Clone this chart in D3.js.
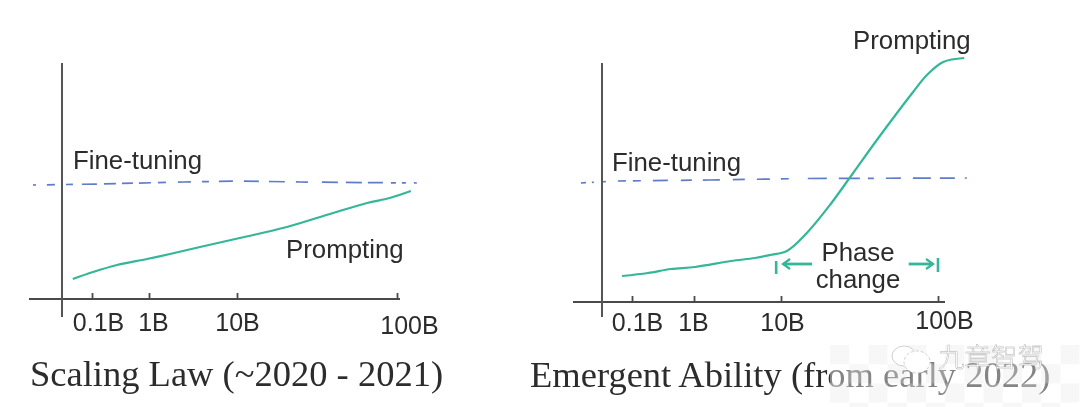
<!DOCTYPE html>
<html><head><meta charset="utf-8">
<script src="https://cdn.jsdelivr.net/npm/d3@7"></script>
<style>
html,body{margin:0;padding:0;background:#fff;overflow:hidden}
svg{display:block;filter:blur(0.6px)}
text{fill:#2c2c2c}
</style></head><body>
<svg id="c" width="1080" height="407"></svg>
<script>
const tickValues = [0.1, 1, 10, 100];
const tickLabels = ["0.1B", "1B", "10B", "100B"];

const leftTitle = "Scaling Law (~2020 - 2021)";
const rightTitle = "Emergent Ability (from early 2022)";

const leftPromptSize = [0.046, 0.104, 0.275, 0.92, 1.73, 3.8, 10.4, 20.5, 39.8, 65, 90, 122];
const leftPromptAbility = [20, 27, 34, 40, 45, 52, 61, 72, 86, 96, 101, 108];
const leftFineSize = [0.0092, 0.138, 2.43, 10.4, 24.8, 133];
const leftFineAbility = [114, 115, 117, 118, 117, 116];

const rightPromptSize = [0.069, 0.181, 0.426, 1.03, 2.66, 5.0, 7.48, 10.9, 14.6, 20.5, 28.8, 40.8, 54.8, 69.4, 85, 108, 147];
const rightPromptAbility = [26, 29, 33, 35, 41, 44, 47, 51, 69, 97, 129, 162, 189, 210, 227, 240, 244];
const rightFineSize = [0.015, 0.055, 1.5, 14, 155];
const rightFineAbility = [119, 121, 122, 123.5, 124];

const phaseBars = [8.8, 100];
const phaseArrowLeft = [15.8, 10.3];
const phaseArrowRight = [65, 93];
const phaseArrowAbility = [38, 38];

const svg = d3.select("#c");
const TEAL = "#35b698", BLUE = "#5f7cc6", AX = "#4a4a4a";

function panel(o){
  const g = svg.append("g");
  const x = d3.scaleLog().domain(tickValues).range(o.ticksPx);
  const y = d3.scaleLinear().domain([0, 260]).range([o.axisY, o.axisY - 260]);
  const line = d3.line().x(d => x(d[0])).y(d => y(d[1]));

  const ax = g.append("g").attr("transform", `translate(0,${o.axisY})`)
    .call(d3.axisBottom(x).tickValues(tickValues).tickFormat((d,i)=>tickLabels[i]).tickSize(-6).tickSizeOuter(0));
  ax.select(".domain").remove();
  ax.selectAll(".tick line").attr("stroke", AX).attr("stroke-width", 1.8);
  ax.selectAll(".tick text").attr("font-family", "Liberation Sans").attr("font-size", 25)
    .style("fill","#2c2c2c")
    .attr("dx", (d,i)=>o.labelDx[i]).attr("y", (d,i)=>o.labelBase[i]-o.axisY).attr("dy", 0);
  g.append("line").attr("x1", o.xAxis[0]).attr("x2", o.xAxis[1]).attr("y1", o.axisY).attr("y2", o.axisY)
    .attr("stroke", AX).attr("stroke-width", 2);
  g.append("line").attr("x1", o.yAxisX).attr("x2", o.yAxisX).attr("y1", 63).attr("y2", 317)
    .attr("stroke", "#555").attr("stroke-width", 2);

  g.append("path").datum(d3.zip(o.fineX, o.fineY)).attr("d", line).attr("fill", "none")
    .attr("stroke", BLUE).attr("stroke-width", 1.7).attr("stroke-dasharray", o.dash);
  g.append("path").datum(d3.zip(o.promptX, o.promptY)).attr("d", line.curve(d3.curveCatmullRom.alpha(0.5))).attr("fill", "none")
    .attr("stroke", TEAL).attr("stroke-width", 2.2).attr("stroke-linejoin","round");

  const lab = (t, px, py) => g.append("text").text(t).attr("x", px).attr("y", py)
    .attr("font-family", "Liberation Sans").attr("font-size", 25.8);
  lab("Fine-tuning", o.fineLabel[0], o.fineLabel[1]);
  lab("Prompting", o.promptLabel[0], o.promptLabel[1]);
  g.append("text").text(o.title).attr("x", o.titlePos[0]).attr("y", o.titlePos[1])
    .attr("font-family", "Liberation Serif").attr("font-size", o.titleSize);
  return {g, x, y};
}

panel({
  ticksPx:[92,149,237,397], axisY:299, xAxis:[29,400], yAxisX:62,
  labelDx:[6,4,0,12], labelBase:[331,331,331,334],
  promptX:leftPromptSize, promptY:leftPromptAbility,
  fineX:leftFineSize, fineY:leftFineAbility,
  dash:"3,11,8,11,7,9,15,7,12,6,11,6,12,7,8,12,13,11,7,10,14,11,15,10,16,11,12,14,16,8,16,6,15,8,5,6,4,8,4,300",
  fineLabel:[73,169], promptLabel:[286,258],
  title:leftTitle, titlePos:[30,386], titleSize:36.5
});

const R = panel({
  ticksPx:[632,694,781,938], axisY:302, xAxis:[573,945], yAxisX:602,
  labelDx:[5,-1,1,6], labelBase:[331,331,331,329],
  promptX:rightPromptSize, promptY:rightPromptAbility,
  fineX:rightFineSize, fineY:rightFineAbility,
  dash:"5,6,2,9,3,12,8,7,8,12,15,13,11,11,17,13,12,12,13,11,8,19,19,12,21,8,6,12,15,12,18,9,15,10,2,300",
  fineLabel:[612,171], promptLabel:[853,49],
  title:rightTitle, titlePos:[530,387], titleSize:36.5
});

const gp = R.g.append("g");
gp.selectAll("line.bar").data(phaseBars).join("line").attr("class","bar")
  .attr("x1", d=>R.x(d)).attr("x2", d=>R.x(d))
  .attr("y1", (d,i)=>[261,258][i]).attr("y2", (d,i)=>[274,272][i])
  .attr("stroke", TEAL).attr("stroke-width", 2.6);
function arrow(xs){
  const yy = R.y(phaseArrowAbility[0]);
  gp.append("line").attr("x1", R.x(xs[0])).attr("x2", R.x(xs[1])).attr("y1", yy).attr("y2", yy)
    .attr("stroke", TEAL).attr("stroke-width", 2.8);
  const d = Math.sign(xs[1]-xs[0]), e = R.x(xs[1]);
  gp.append("path").attr("d", `M${e-d*7},${yy-5}L${e},${yy}L${e-d*7},${yy+5}`)
    .attr("fill","none").attr("stroke", TEAL).attr("stroke-width", 2.2);
}
arrow(phaseArrowLeft); arrow(phaseArrowRight);
gp.selectAll("text.ph").data(["Phase","change"]).join("text").attr("class","ph").text(d=>d)
  .attr("x", 858).attr("y",(d,i)=>[260.5,287.5][i]).attr("text-anchor","middle")
  .attr("font-family","Liberation Sans").attr("font-size",25.8);

const wm = svg.append("g");
wm.append("rect").attr("x",830).attr("y",345).attr("width",250).attr("height",62).attr("fill","#fff").attr("opacity",0.42);
d3.range(0,4).forEach(r=>d3.range(0,13).forEach(c=>{
  if((r+c)%2===0) wm.append("rect").attr("x",830+c*19.2).attr("y",345+r*19.2).attr("width",19.2).attr("height",19.2)
    .attr("fill","#e4e4e4").attr("opacity",0.28);
}));
const ic = wm.append("g").attr("fill","#fff").attr("stroke","#bbb").attr("stroke-width",0.7);
ic.append("ellipse").attr("cx",904).attr("cy",356).attr("rx",12).attr("ry",10);
ic.append("ellipse").attr("cx",917).attr("cy",362).attr("rx",13).attr("ry",11).attr("stroke-dasharray","3,2");
wm.append("text").text("九章智驾").attr("x",938).attr("y",367).attr("font-family","Noto Sans CJK SC")
  .attr("font-size",26.5).attr("font-weight",300).style("fill","#fff").attr("stroke","#aaa").attr("stroke-width",0.4);
</script>
</body></html>
